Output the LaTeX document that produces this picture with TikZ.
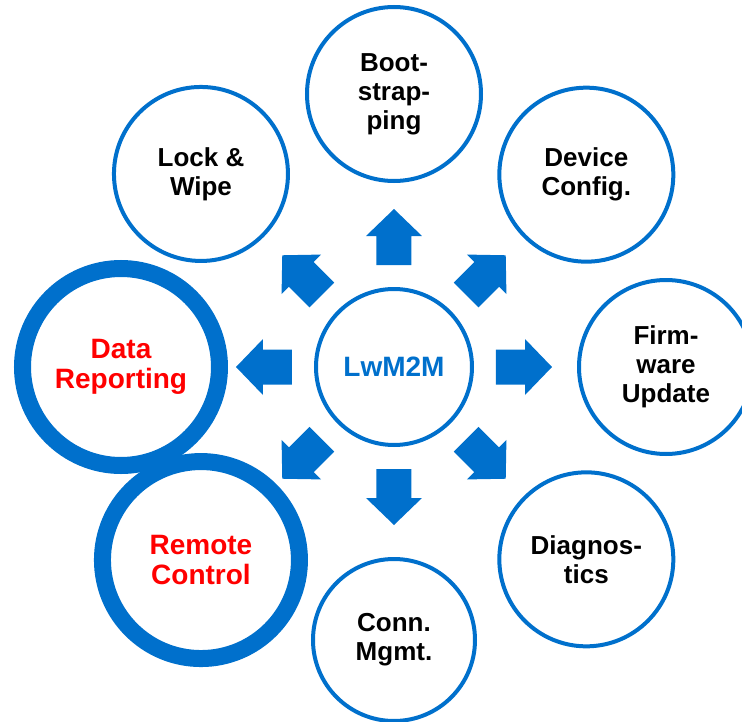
\documentclass[tikz,border=0pt]{standalone}
\usepackage{fontspec}
\setmainfont{Liberation Sans}
\usetikzlibrary{positioning}
\definecolor{lwblue}{RGB}{0,112,204}
\definecolor{lwred}{RGB}{255,0,0}

\begin{document}
\begin{tikzpicture}[
  x=1pt, y=1pt,
  every node/.style={align=center},
  feature/.style={
    circle, draw=lwblue, line width=4pt, fill=white,
    minimum size=174pt, inner sep=0pt,
    font=\fontsize{26}{29}\selectfont\bfseries
  },
  highlight/.style={
    feature, line width=17pt, minimum size=197pt, text=lwred,
    font=\fontsize{28}{30}\selectfont\bfseries
  },
  core/.style={
    circle, draw=lwblue, line width=4pt, minimum size=156pt,
    inner sep=0pt, text=lwblue, font=\fontsize{28}{32}\selectfont\bfseries
  },
  blockarrow/.style={fill=lwblue}
]
\useasboundingbox (-394,-354) rectangle (348,367);
\clip (-394,-354) rectangle (348,367);

\node[core] (lwm) at (0,0) {LwM2M};

\node[feature] (boot)   at (90:273)   {Boot-\\strap-\\ping};
\node[feature] (config) at (45:272)   {Device\\Config.};
\node[feature] (firm)   at (0:272)    {Firm-\\ware\\Update};
\node[feature] (diag)   at (-45:272)  {Diagnos-\\tics};
\node[feature, minimum size=162pt] (conn) at (-90:273) {Conn.\\Mgmt.};
\node[highlight] (remote) at (-135:273) {Remote\\Control};
\node[highlight] (data)   at (180:273)  {Data\\Reporting};
\node[feature] (lock)   at (135:273)  {Lock \&\\Wipe};

% block arrows pointing out of the core
\foreach \a in {0,45,...,315}
  \fill[blockarrow, shift={(lwm.center)}, rotate=\a]
    (102,-17.5) -- (131,-17.5) -- (131,-28) -- (158,0)
    -- (131,28) -- (131,17.5) -- (102,17.5) -- cycle;
\end{tikzpicture}
\end{document}
